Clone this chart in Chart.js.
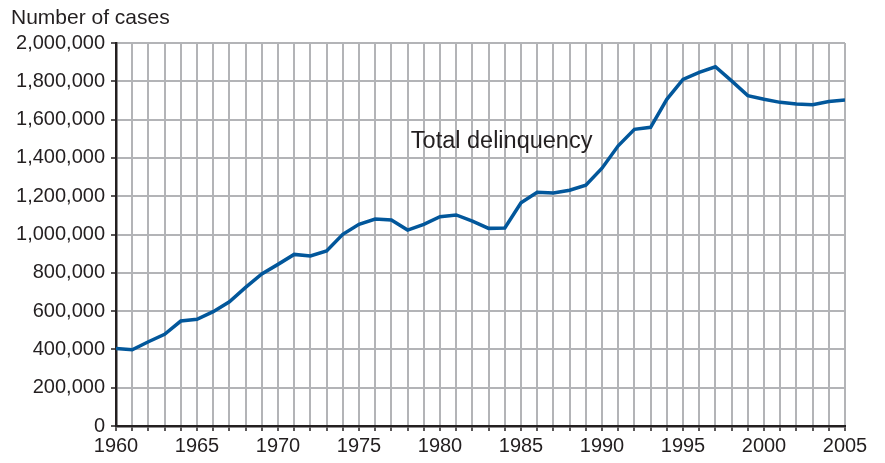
<!DOCTYPE html>
<html>
<head>
<meta charset="utf-8">
<script src="https://cdn.jsdelivr.net/npm/chart.js@4.4.0/dist/chart.umd.min.js"></script>
<style>
html,body{margin:0;padding:0;background:#fff;}
#wrap{position:relative;width:885px;height:463px;}
</style>
</head>
<body>
<div id="wrap"><canvas id="c" width="885" height="463"></canvas></div>
<script>
const years = [1960,1961,1962,1963,1964,1965,1966,1967,1968,1969,1970,1971,1972,1973,1974,1975,1976,1977,1978,1979,1980,1981,1982,1983,1984,1985,1986,1987,1988,1989,1990,1991,1992,1993,1994,1995,1996,1997,1998,1999,2000,2001,2002,2003,2004,2005];
const totalDelinquency = [405000,398000,440000,479000,548000,557000,597000,649000,724000,794000,844000,896000,888000,914000,1001000,1053000,1081000,1076000,1023000,1053000,1093000,1102000,1070000,1032000,1034000,1166000,1220000,1217000,1231000,1258000,1346000,1463000,1549000,1560000,1706000,1810000,1847000,1876000,1802000,1725000,1706000,1690000,1681000,1678000,1694000,1702000];
const yAxisTitle = "Number of cases";
const seriesLabel = "Total delinquency";
const labelYear = 1978.2;
const labelValue = 1452000;

const FONT = "'Liberation Sans', Arial, Helvetica, sans-serif";
const TEXT = "#231f20";

const textPlugin = {
  id: 'texts',
  afterDraw(chart) {
    const ctx = chart.ctx;
    const x = chart.scales.x, y = chart.scales.y;
    ctx.save();
    ctx.fillStyle = TEXT;
    ctx.textAlign = "left";
    ctx.textBaseline = "alphabetic";
    ctx.font = "21px " + FONT;
    ctx.fillText(yAxisTitle, 11, 24);
    ctx.font = "23.5px " + FONT;
    ctx.fillText(seriesLabel, x.getPixelForValue(labelYear), y.getPixelForValue(labelValue));
    ctx.restore();
  }
};

new Chart(document.getElementById('c'), {
  type: 'line',
  data: {
    datasets: [{
      label: seriesLabel,
      data: years.map((yr, i) => ({x: yr, y: totalDelinquency[i]})),
      borderColor: '#02579b',
      borderWidth: 3.5,
      pointRadius: 0,
      tension: 0,
      fill: false
    }]
  },
  options: {
    responsive: false,
    animation: false,
    layout: {padding: {top: 43, right: 40, left: 0, bottom: 0}},
    plugins: {legend: {display: false}, tooltip: {enabled: false}},
    scales: {
      x: {
        type: 'linear',
        min: 1960, max: 2005,
        afterFit(s) { s.height = 37; },
        ticks: {
          stepSize: 1,
          autoSkip: false,
          maxRotation: 0,
          color: TEXT,
          font: {family: FONT, size: 20},
          padding: 3,
          callback: v => (v % 5 === 0 ? String(v) : '')
        },
        grid: {color: '#b3b4b7', lineWidth: 2, tickLength: 5, tickColor: '#231f20', tickWidth: 1.5},
        border: {color: '#231f20', width: 2.5}
      },
      y: {
        min: 0, max: 2000000,
        afterFit(s) { s.width = 116; },
        ticks: {
          stepSize: 200000,
          color: TEXT,
          font: {family: FONT, size: 20},
          padding: 6,
          callback: v => v.toLocaleString('en-US')
        },
        grid: {color: '#b3b4b7', lineWidth: 2, tickLength: 5, tickColor: '#231f20', tickWidth: 1.5},
        border: {color: '#231f20', width: 2.5}
      }
    }
  },
  plugins: [textPlugin]
});
</script>
</body>
</html>
